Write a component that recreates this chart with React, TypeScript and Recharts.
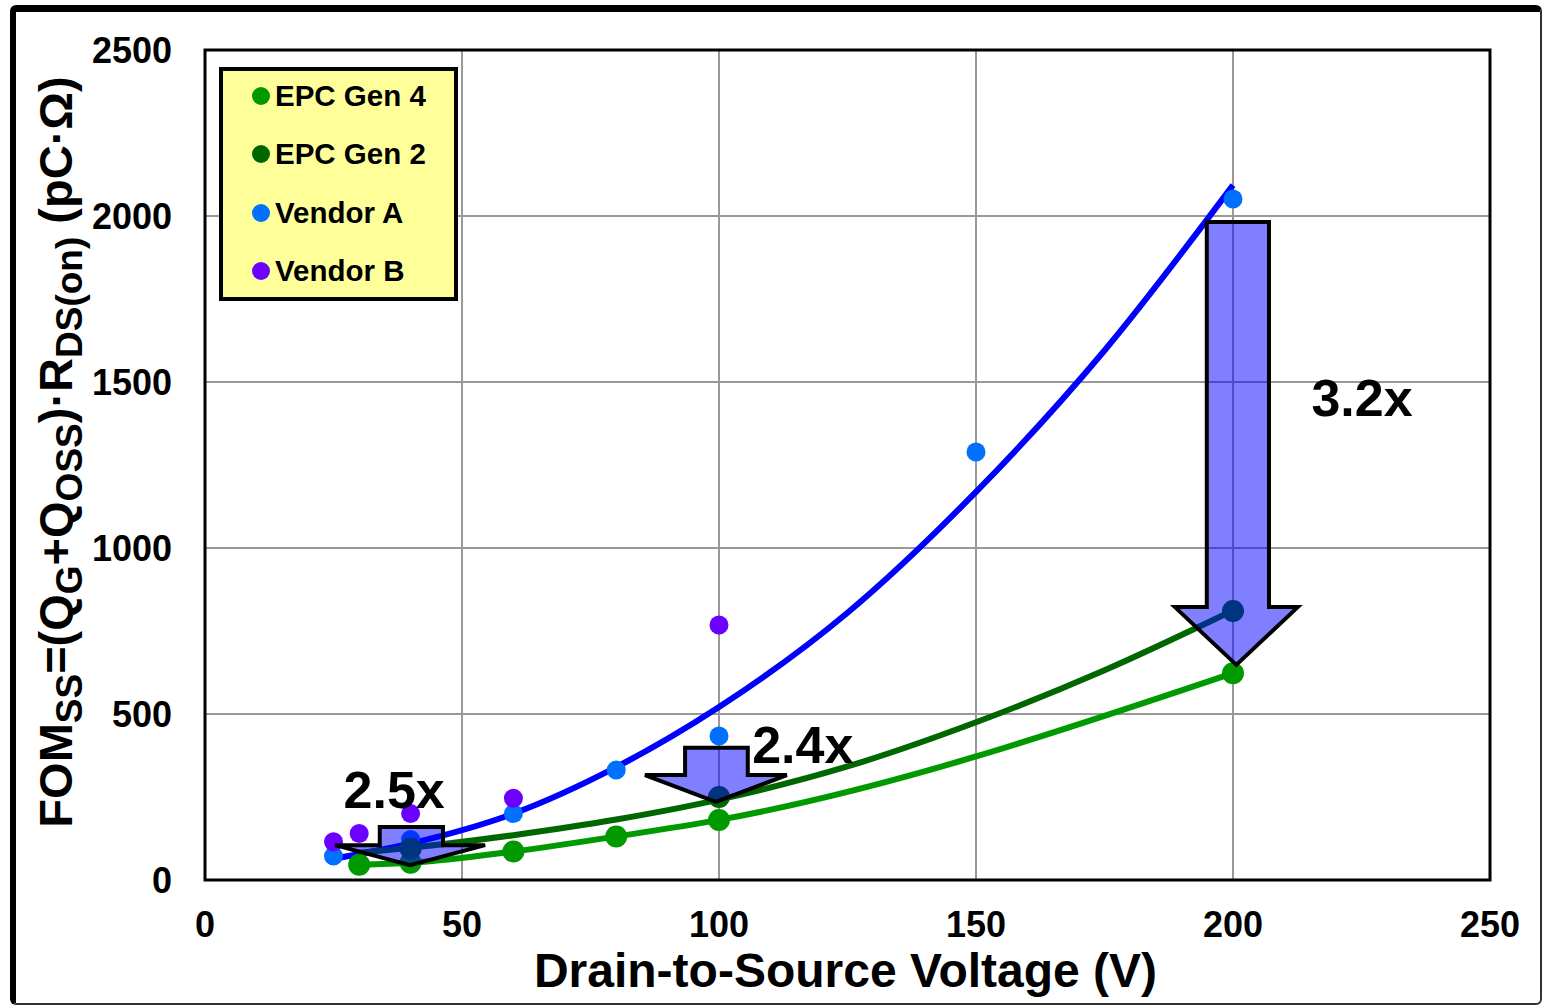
import React from 'react';
import {
  ComposedChart,
  Line,
  Scatter,
  XAxis,
  YAxis,
  CartesianGrid,
  ReferenceArea,
  ReferenceDot,
  Legend,
} from 'recharts';

const FONT = '"Liberation Sans", Arial, Helvetica, sans-serif';

// ---- data (V, FOM in pC·Ω) ----
const xTicks = [0, 50, 100, 150, 200, 250];
const yTicks = [0, 500, 1000, 1500, 2000, 2500];

const gen4Points = [
  { v: 30, y: 46 },
  { v: 40, y: 52 },
  { v: 60, y: 86 },
  { v: 80, y: 131 },
  { v: 100, y: 181 },
  { v: 200, y: 623 },
];
const gen2Points = [
  { v: 40, y: 95 },
  { v: 100, y: 250 },
  { v: 200, y: 810 },
];
const vendorAPoints = [
  { v: 25, y: 72 },
  { v: 40, y: 122 },
  { v: 60, y: 200 },
  { v: 80, y: 331 },
  { v: 100, y: 434 },
  { v: 150, y: 1289 },
  { v: 200, y: 2051 },
];
const vendorBPoints = [
  { v: 25, y: 115 },
  { v: 30, y: 140 },
  { v: 40, y: 200 },
  { v: 60, y: 246 },
  { v: 100, y: 768 },
];
const vendorATrend = [
  { v: 25, y: 64 },
  { v: 40, y: 110 },
  { v: 60, y: 200 },
  { v: 80, y: 340 },
  { v: 100, y: 521 },
  { v: 125, y: 805 },
  { v: 150, y: 1169 },
  { v: 175, y: 1595 },
  { v: 200, y: 2093 },
];
const gen2Trend = [
  { v: 30, y: 82 },
  { v: 40, y: 97 },
  { v: 60, y: 135 },
  { v: 80, y: 182 },
  { v: 100, y: 242 },
  { v: 125, y: 342 },
  { v: 150, y: 475 },
  { v: 175, y: 632 },
  { v: 200, y: 812 },
];

// arrow annotations (data units)
const arrows = [
  { headLeft: 25.3, headRight: 54.5, shaftLeft: 34.0, shaftRight: 46.3, top: 160, base: 105, tip: 45 },
  { headLeft: 85.6, headRight: 113.2, shaftLeft: 93.4, shaftRight: 105.6, top: 398, base: 316, tip: 235 },
  { headLeft: 188.7, headRight: 212.6, shaftLeft: 194.9, shaftRight: 207.0, top: 1982, base: 822, tip: 648 },
];
const ratioLabels = [
  { v: 36.8, y: 274, text: '2.5x' },
  { v: 116.3, y: 410, text: '2.4x' },
  { v: 225.1, y: 1455, text: '3.2x' },
];

const seriesNames = ['EPC Gen 4', 'EPC Gen 2', 'Vendor A', 'Vendor B'];
const COLORS: Record<string, string> = {
  'EPC Gen 4': '#009900',
  'EPC Gen 2': '#006600',
  'Vendor A': '#0070ff',
  'Vendor B': '#6c00ff',
  trendA: '#0000ff',
};

// arrow outline vertices in data units
const arrowVertices = (a: any) => {
  const tipX = (a.headLeft + a.headRight) / 2;
  const pts = [
    [a.shaftLeft, a.top],
    [a.shaftRight, a.top],
    [a.shaftRight, a.base],
    [a.headRight, a.base],
    [tipX, a.tip],
    [a.headLeft, a.base],
    [a.shaftLeft, a.base],
  ];
  return pts.map(([v, y], idx) => ({ v, y, idx, n: pts.length }));
};

const makeArrowShape = () => {
  const px: number[][] = [];
  return (props: any) => {
    const { cx, cy, payload } = props;
    px[payload.idx] = [cx, cy];
    if (payload.idx !== payload.n - 1) return <g />;
    const pts = px.map((p) => p.join(',')).join(' ');
    return (
      <polygon
        points={pts}
        fill="rgba(0,0,255,0.5)"
        stroke="#000"
        strokeWidth={4}
        strokeLinejoin="miter"
      />
    );
  };
};

const dot = (r: number, color: string) => (props: any) => {
  const { cx, cy } = props;
  if (cx == null || cy == null) return <g />;
  return <circle cx={cx} cy={cy} r={r} fill={color} />;
};

const XTick = (props: any) => {
  const { x, y, payload } = props;
  return (
    <text x={x} y={y + 57} textAnchor="middle" fontSize={36} fontWeight="bold" fill="#000" fontFamily={FONT}>
      {payload.value}
    </text>
  );
};
const YTick = (props: any) => {
  const { x, y, payload } = props;
  return (
    <text x={x - 33} y={y + 13} textAnchor="end" fontSize={36} fontWeight="bold" fill="#000" fontFamily={FONT}>
      {payload.value}
    </text>
  );
};

const XLabel = (props: any) => {
  const vb = props.viewBox || { x: 205, y: 880, width: 1285, height: 125 };
  return (
    <text
      x={vb.x + vb.width / 2 - 2}
      y={vb.y + 107}
      textAnchor="middle"
      fontSize={48}
      fontWeight="bold"
      fill="#000"
      fontFamily={FONT}
    >
      Drain-to-Source Voltage (V)
    </text>
  );
};

const YLabel = (props: any) => {
  const vb = props.viewBox || { x: 0, y: 50, width: 205, height: 830 };
  const cx = vb.x + 72;
  const cy = vb.y + vb.height / 2 - 13;
  const sub = 37;
  const d = 10;
  return (
    <text
      transform={`rotate(-90, ${cx}, ${cy})`}
      x={cx}
      y={cy}
      textAnchor="middle"
      fontSize={47}
      fontWeight="bold"
      fill="#000"
      fontFamily={FONT}
    >
      <tspan>FOM</tspan>
      <tspan fontSize={sub} dy={d}>SS</tspan>
      <tspan dy={-d}>=(Q</tspan>
      <tspan fontSize={sub} dy={d}>G</tspan>
      <tspan dy={-d}>+Q</tspan>
      <tspan fontSize={sub} dy={d}>OSS</tspan>
      <tspan dy={-d}>)·R</tspan>
      <tspan fontSize={sub} dy={d}>DS(on)</tspan>
      <tspan dy={-d}> (pC·Ω)</tspan>
    </text>
  );
};

const LegendBox = (props: any) => {
  const payload = (props.payload || [])
    .filter((p: any) => seriesNames.includes(p.value))
    .sort((a: any, b: any) => seriesNames.indexOf(a.value) - seriesNames.indexOf(b.value));
  return (
    <div
      style={{
        position: 'relative',
        width: 239,
        height: 234,
        boxSizing: 'border-box',
        border: '4px solid #000',
        background: '#ffff99',
        fontFamily: FONT,
      }}
    >
      {payload.map((p: any, i: number) => (
        <div
          key={p.value}
          style={{
            position: 'absolute',
            left: 0,
            top: 10 + i * 58.3,
            height: 30,
            display: 'flex',
            alignItems: 'center',
            whiteSpace: 'nowrap',
          }}
        >
          <span
            style={{
              display: 'inline-block',
              width: 18,
              height: 18,
              borderRadius: '50%',
              background: p.color,
              marginLeft: 29,
              marginRight: 5,
            }}
          />
          <span style={{ fontSize: 29.5, fontWeight: 'bold', color: '#000' }}>{p.value}</span>
        </div>
      ))}
    </div>
  );
};

export default function App() {
  return (
    <div style={{ position: 'absolute', left: 0, top: 0, width: 1544, height: 1005, background: '#fff', overflow: 'hidden' }}>
      <ComposedChart
        width={1544}
        height={1005}
        margin={{ top: 50, right: 54, bottom: 0, left: 0 }}
        style={{ fontFamily: FONT }}
      >
        <CartesianGrid stroke="#999" strokeWidth={2} />
        <XAxis
          dataKey="v"
          type="number"
          domain={[0, 250]}
          ticks={xTicks}
          height={125}
          tickSize={0}
          tickMargin={0}
          axisLine={false}
          tickLine={false}
          tick={<XTick />}
          allowDataOverflow
          label={<XLabel />}
        />
        <YAxis
          dataKey="y"
          type="number"
          domain={[0, 2500]}
          ticks={yTicks}
          width={205}
          tickSize={0}
          tickMargin={0}
          axisLine={false}
          tickLine={false}
          tick={<YTick />}
          allowDataOverflow
          label={<YLabel />}
        />
        <Legend
          layout="vertical"
          align="center"
          verticalAlign="middle"
          content={<LegendBox />}
          wrapperStyle={{ position: 'absolute', left: 219, top: 67, width: 239, height: 234 }}
        />
        <ReferenceArea
          x1={0}
          x2={250}
          y1={0}
          y2={2500}
          fill="none"
          fillOpacity={0}
          stroke="#000"
          strokeWidth={3}
          ifOverflow="visible"
        />
        <Scatter
          name="Vendor A"
          data={vendorAPoints}
          dataKey="y"
          fill={COLORS['Vendor A']}
          shape={dot(9.5, COLORS['Vendor A'])}
          isAnimationActive={false}
        />
        <Line
          data={vendorATrend}
          dataKey="y"
          type="monotone"
          stroke={COLORS.trendA}
          strokeWidth={6}
          dot={false}
          activeDot={false}
          legendType="none"
          isAnimationActive={false}
        />
        <Line
          data={gen2Trend}
          dataKey="y"
          type="monotone"
          stroke={COLORS['EPC Gen 2']}
          strokeWidth={6}
          dot={false}
          activeDot={false}
          legendType="none"
          isAnimationActive={false}
        />
        <Line
          data={gen4Points}
          dataKey="y"
          type="monotone"
          stroke={COLORS['EPC Gen 4']}
          strokeWidth={6}
          dot={false}
          activeDot={false}
          legendType="none"
          isAnimationActive={false}
        />
        <Scatter
          name="EPC Gen 4"
          data={gen4Points}
          dataKey="y"
          fill={COLORS['EPC Gen 4']}
          shape={dot(11, COLORS['EPC Gen 4'])}
          isAnimationActive={false}
        />
        <Scatter
          name="EPC Gen 2"
          data={gen2Points}
          dataKey="y"
          fill={COLORS['EPC Gen 2']}
          shape={dot(11, COLORS['EPC Gen 2'])}
          isAnimationActive={false}
        />
        <Scatter
          name="Vendor B"
          data={vendorBPoints}
          dataKey="y"
          fill={COLORS['Vendor B']}
          shape={dot(9.5, COLORS['Vendor B'])}
          isAnimationActive={false}
        />
        {arrows.map((a, i) => (
          <Scatter
            key={'arrow' + i}
            name={'arrow' + i}
            data={arrowVertices(a)}
            dataKey="y"
            legendType="none"
            fill="#8080ff"
            shape={makeArrowShape()}
            isAnimationActive={false}
          />
        ))}
        {ratioLabels.map((l) => (
          <ReferenceDot
            key={l.text}
            x={l.v}
            y={l.y}
            ifOverflow="visible"
            shape={(p: any) => (
              <text
                x={p.cx}
                y={p.cy}
                dy={19}
                textAnchor="middle"
                fontSize={52}
                fontWeight="bold"
                fill="#000"
                fontFamily={FONT}
              >
                {l.text}
              </text>
            )}
          />
        ))}
      </ComposedChart>
      <div
        style={{
          position: 'absolute',
          left: 10,
          top: 5,
          width: 1532,
          height: 1000,
          boxSizing: 'border-box',
          borderLeft: '6px solid #000',
          borderTop: '7px solid #000',
          borderRight: '2px solid #333',
          borderBottom: '2px solid #333',
          borderRadius: 6,
          pointerEvents: 'none',
        }}
      />
    </div>
  );
}
